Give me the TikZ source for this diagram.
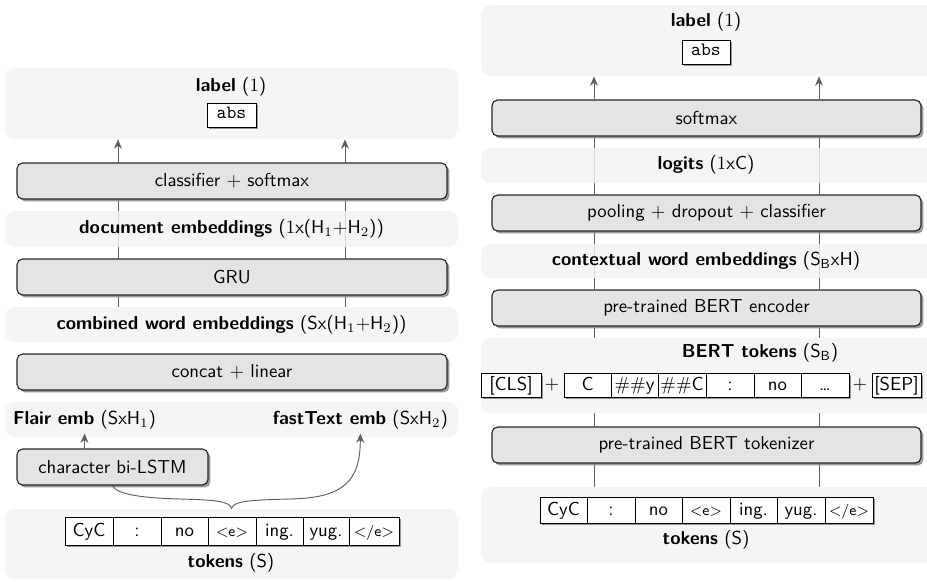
\documentclass[tikz,border=0pt]{standalone}
\usetikzlibrary{shadows,arrows.meta}
\renewcommand{\familydefault}{\sfdefault}

\definecolor{panelgray}{HTML}{F3F3F3}
\definecolor{boxgray}{HTML}{E4E4E4}
\definecolor{linegray}{HTML}{5E5E5E}

\newcommand{\opentag}{{\footnotesize\sffamily<e>}}
\newcommand{\closetag}{{\footnotesize\sffamily</e>}}

\pgfdeclarelayer{flowlayer}
\pgfdeclarelayer{panellayer}
\pgfsetlayers{flowlayer,panellayer,main}

\tikzset{
  x=0.533pt, y=-0.533pt,
  % a node spanning the corners (x1,y1) and (x2,y2)
  span/.style n args={4}{
    minimum width={(#3-#1)*0.533pt}, minimum height={(#4-#2)*0.533pt},
    at={({(#1+#3)/2},{(#2+#4)/2})}},
  panel/.style={fill=panelgray, fill opacity=0.82, text opacity=1,
    rounded corners=5pt, inner sep=0pt, draw=none},
  stage/.style={draw=black!85, fill=boxgray, rounded corners=3pt,
    line width=0.6pt, inner sep=0pt,
    drop shadow={shadow xshift=1.3pt, shadow yshift=-1.3pt, fill=black!50, opacity=0.8}},
  cell/.style={draw=black, fill=white, line width=0.5pt, inner sep=0pt,
    text height=1.6ex, text depth=0.3ex,
    drop shadow={shadow xshift=1.2pt, shadow yshift=-1.2pt, fill=black!50, opacity=0.8}},
  plus/.style={inner sep=0pt},
  title/.style={inner sep=2pt},
  flow/.style={draw=linegray, line width=0.5pt},
  flowarrow/.style={flow, -{Stealth[length=5pt,width=4.2pt]}},
}

\begin{document}
\begin{tikzpicture}
\useasboundingbox (0,0) rectangle (927,582);

% ---------------- left model: Flair + fastText + GRU ----------------
\begin{pgfonlayer}{panellayer}
  \node[panel, span={5}{68}{458}{139}] (labL) {};
  \node[panel, span={5}{211}{458}{247}] (doc) {\textbf{document embeddings} ($1$x(H$_1$+H$_2$))};
  \node[panel, span={5}{307}{458}{342}] (comb) {\textbf{combined word embeddings} (Sx(H$_1$+H$_2$))};
  \node[panel, span={5}{402}{458}{437}] (emb) {};
  \node[panel, span={5}{509}{458}{579}] (tokL) {};
\end{pgfonlayer}

\node[title] (labLt) at (231,87) {\textbf{label} ($1$)};
\node[cell, span={207}{103}{256}{127}, font=\ttfamily, text height=1.2ex] (absL) {abs};

\node[stage, span={17}{163}{447}{199}] (cls) {classifier $+$ softmax};
\node[stage, span={17}{259}{447}{295}] (gru) {GRU};
\node[stage, span={17}{354}{447}{390}] (cat) {concat $+$ linear};
\node[stage, span={17}{449}{208}{485}] (lstm) {character bi-LSTM};

\node[title, anchor=west] (flair) at (9,420) {\textbf{Flair emb} (SxH$_1$)};
\node[title, anchor=east] (fast) at (452,420) {\textbf{fastText emb} (SxH$_2$)};

\foreach \i/\a/\b/\t in {1/65/113/CyC, 2/113/161/:, 3/161/208/no,
    4/208/256/\opentag, 5/256/303/ing., 6/303/349/yug., 7/349/399/\closetag}
  \node[cell, span={\a}{517}{\b}{545}] (tl\i) {\t};
\node[title] (tokLt) at (231,563) {\textbf{tokens} (S)};

\coordinate (xa) at (118,0);
\coordinate (xb) at (345,0);

\begin{pgfonlayer}{flowlayer}
  \foreach \c in {xa,xb} {
    \draw[flow] (\c |- comb.north) -- (\c |- gru.south);
    \draw[flow] (\c |- gru.north) -- (\c |- cls.south);
  }
\end{pgfonlayer}
\foreach \c in {xa,xb}
  \draw[flowarrow] (\c |- cls.north) -- (\c |- labL.south);

\draw[flowarrow] (lstm.north -| flair.south) -- (flair.south);
\draw[flow] (tokL.north) .. controls (230,501) and (215,500) .. (180,499)
  .. controls (140,498) and (116,494) .. (lstm.south);
\draw[flowarrow] (tokL.north) .. controls (233,501) and (250,500) .. (290,499)
  .. controls (345,498) and (fast.south |- 0,480) .. (fast.south);

% ---------------- right model: BERT ----------------
\begin{pgfonlayer}{panellayer}
  \node[panel, span={481}{5}{940}{76}] (labR) {};
  \node[panel, span={481}{148}{940}{183}] (logit) {};
  \node[panel, span={481}{244}{940}{278}] (ctx) {};
  \node[panel, span={481}{338}{940}{413}] (bert) {};
  \node[panel, span={481}{487}{940}{563}] (tokR) {};
\end{pgfonlayer}

\node[title] (labRt) at (706,22) {\textbf{label} ($1$)};
\node[cell, span={682}{40}{730}{64}, font=\ttfamily, text height=1.2ex] (absR) {abs};

\node[stage, span={492}{100}{921}{136}] (soft) {softmax};
\node[title] (logitt) at (706,165) {\textbf{logits} ($1$xC)};
\node[stage, span={492}{195}{921}{231}] (pool) {pooling $+$ dropout $+$ classifier};
\node[title] (ctxt) at (706,261) {\textbf{contextual word embeddings} (S$_\mathsf{B}$xH)};
\node[stage, span={492}{290}{921}{326}] (enc) {pre-trained BERT encoder};
\node[title] (bertt) at (760,353) {\textbf{BERT tokens} (S$_\mathsf{B}$)};

\node[cell, span={481}{373}{541}{397}] (cls0) {[CLS]};
\node[plus] (p1) at (552,385) {$+$};
\foreach \i/\a/\b/\t in {1/564/611/C, 2/611/658/\#\#y, 3/658/706/\#\#C,
    4/706/754/:, 5/754/801/no, 6/801/849/\ldots}
  \node[cell, span={\a}{373}{\b}{397}] (b\i) {\t};
\node[plus] (p2) at (860,385) {$+$};
\node[cell, span={872}{373}{921}{397}] (sep0) {[SEP]};

\node[stage, span={492}{427}{921}{463}] (tkz) {pre-trained BERT tokenizer};

\foreach \i/\a/\b/\t in {1/540/587/CyC, 2/587/635/:, 3/635/682/no,
    4/682/730/\opentag, 5/730/777/ing., 6/777/825/yug., 7/825/873/\closetag}
  \node[cell, span={\a}{497}{\b}{523}] (tr\i) {\t};
\node[title] (tokRt) at (706,540) {\textbf{tokens} (S)};

\coordinate (xc) at (594,0);
\coordinate (xd) at (819,0);

\begin{pgfonlayer}{flowlayer}
  \foreach \c in {xc,xd} {
    \draw[flow] (\c |- tokR.north) -- (\c |- tkz.south);
    \draw[flow] (\c |- tkz.north) -- (\c |- bert.south);
    \draw[flow] (\c |- bert.north) -- (\c |- enc.south);
    \draw[flow] (\c |- enc.north) -- (\c |- pool.south);
    \draw[flow] (\c |- pool.north) -- (\c |- soft.south);
  }
\end{pgfonlayer}
\foreach \c in {xc,xd}
  \draw[flowarrow] (\c |- soft.north) -- (\c |- labR.south);

\end{tikzpicture}
\end{document}
